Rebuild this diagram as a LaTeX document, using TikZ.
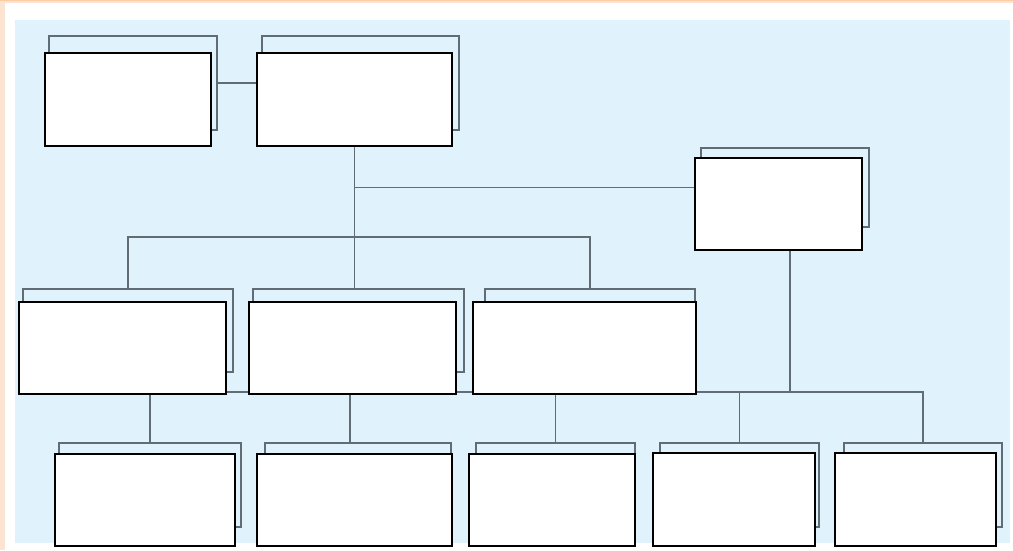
\documentclass[tikz,border=0pt]{standalone}
\definecolor{panelblue}{RGB}{224,242,252}
\definecolor{edgepeach}{RGB}{252,227,210}
\definecolor{edgeorange}{RGB}{250,205,165}
\definecolor{linkgray}{RGB}{98,108,116}
\usepackage{tikz}
\usetikzlibrary{calc,backgrounds}

\begin{document}
\begin{tikzpicture}[x=1pt, y=-1pt,
    orgbox/.style={draw=black, line width=1.8pt, fill=white, anchor=north west, inner sep=0pt, outer sep=0pt},
    orgshadow/.style={draw=linkgray, line width=1.2pt, anchor=north west, inner sep=0pt, outer sep=0pt},
    link/.style={draw=linkgray, line width=1.2pt}]
        \useasboundingbox (0,0) rectangle (1013,550);
        % Frame and panel
        \begin{scope}[on background layer]
        \fill[white] (0,0) rectangle (1013,550);
        \fill[edgepeach] (0,0) rectangle (5,550);
        \fill[edgepeach] (0,0) rectangle (1013,3);
        \fill[edgeorange] (0,0) rectangle (1013,1);
        \fill[panelblue] (15,20) rectangle (1010,543);
        \end{scope}
        % Shadow boxes
        \node[orgshadow,minimum width=168pt,minimum height=94pt] (Ash) at (49,36) {};
        \node[orgshadow,minimum width=197pt,minimum height=94pt] (Bsh) at (262,36) {};
        \node[orgshadow,minimum width=168pt,minimum height=79pt] (Csh) at (701,148) {};
        \node[orgshadow,minimum width=210pt,minimum height=83pt] (D1sh) at (23,289) {};
        \node[orgshadow,minimum width=211pt,minimum height=83pt] (D2sh) at (253,289) {};
        \node[orgshadow,minimum width=210pt,minimum height=83pt] (D3sh) at (485,289) {};
        \node[orgshadow,minimum width=182pt,minimum height=84pt] (E1sh) at (59,443) {};
        \node[orgshadow,minimum width=186pt,minimum height=84pt] (E2sh) at (265,443) {};
        \node[orgshadow,minimum width=159pt,minimum height=84pt] (E3sh) at (476,443) {};
        \node[orgshadow,minimum width=159pt,minimum height=84pt] (E4sh) at (660,443) {};
        \node[orgshadow,minimum width=158pt,minimum height=84pt] (E5sh) at (844,443) {};
        % Front boxes
        \node[orgbox,minimum width=166pt,minimum height=93pt] (A) at (45,53) {};
        \node[orgbox,minimum width=195pt,minimum height=93pt] (B) at (257,53) {};
        \node[orgbox,minimum width=167pt,minimum height=92pt] (C) at (695,158) {};
        \node[orgbox,minimum width=207pt,minimum height=92pt] (D1) at (19,302) {};
        \node[orgbox,minimum width=207pt,minimum height=92pt] (D2) at (249,302) {};
        \node[orgbox,minimum width=223pt,minimum height=92pt] (D3) at (473,302) {};
        \node[orgbox,minimum width=180pt,minimum height=92pt] (E1) at (55,454) {};
        \node[orgbox,minimum width=195pt,minimum height=92pt] (E2) at (257,454) {};
        \node[orgbox,minimum width=166pt,minimum height=92pt] (E3) at (469,454) {};
        \node[orgbox,minimum width=162pt,minimum height=93pt] (E4) at (653,453) {};
        \node[orgbox,minimum width=161pt,minimum height=93pt] (E5) at (835,453) {};
        % Bus points
        \coordinate (topbus) at (355,237);
        \coordinate (lowbus) at (790,392);
        \coordinate (e2drop) at (350,392);
        % Links (behind the boxes)
        \begin{scope}[on background layer]
        \draw[link] (Ash.east) -- (Ash.east -| B.west);
        \draw[link] (B.south) -- (B.south |- D2sh.north);
        \draw[link] (B.south |- Csh.west) -- (Csh.west -| C.west);
        \draw[link] (D1sh.north) |- (topbus) -| (D3sh.north);
        \draw[link] (E1sh.north |- lowbus) -| (E5sh.north);
        \draw[link] (lowbus |- C.south) -- (lowbus);
        \draw[link] (E1sh.north |- lowbus) -- (E1sh.north);
        \draw[link] (e2drop) -- (e2drop |- E2sh.north);
        \draw[link] (E3sh.north |- lowbus) -- (E3sh.north);
        \draw[link] (E4sh.north |- lowbus) -- (E4sh.north);
        \end{scope}
      \end{tikzpicture}
\end{document}
